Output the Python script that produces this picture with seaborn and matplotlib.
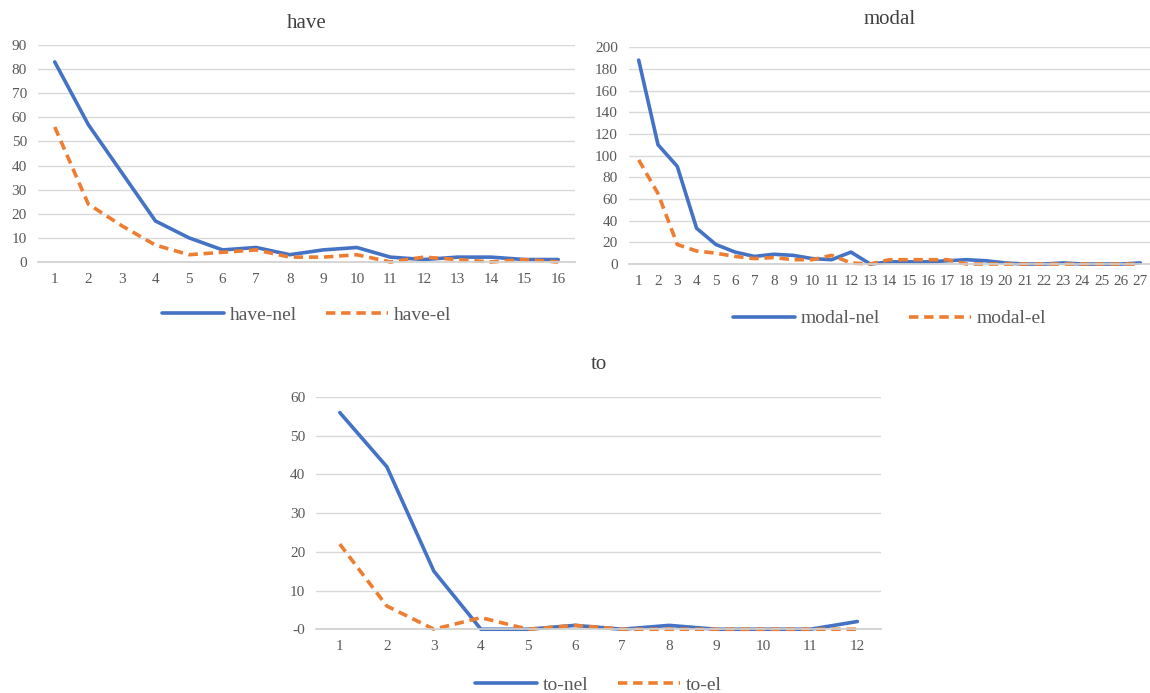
import numpy as np
import pandas as pd
import seaborn as sns
import matplotlib.pyplot as plt

# values
have_nel = [83, 57, 37, 17, 10, 5, 6, 3, 5, 6, 2, 1, 2, 2, 1, 1]
have_el = [56, 24, 15, 7, 3, 4, 5, 2, 2, 3, 0, 2, 1, 0, 1, 0]

modal_nel = [188, 110, 90, 33, 18, 11, 7, 9, 8, 5, 4, 11, 0, 2, 2, 2, 3, 4, 3, 1, 0, 0, 1, 0, 0, 0, 1]
modal_el = [96, 65, 18, 12, 10, 7, 5, 6, 4, 4, 8, 1, 0, 4, 4, 4, 4, 0, 0, 0, 0, 0, 0, 0, 0, 0, 0]

to_nel = [56, 42, 15, 0, 0, 1, 0, 1, 0, 0, 0, 2]
to_el = [22, 6, 0, 3, 0, 1, 0, 0, 0, 0, 0, 0]

BLUE = '#4472C4'
ORANGE = '#ED7D31'
GREY = '#595959'

sns.set_theme(style='white')
plt.rcParams['font.family'] = ['Liberation Serif', 'DejaVu Serif']

fig = plt.figure(figsize=(11.5, 6.93), dpi=100)


def draw(ax, name, nel, el, ymax, ystep, zero_label='0', legend_y=-0.17, title_pad=12):
    x = np.arange(1, len(nel) + 1)
    df = pd.DataFrame({'x': x, 'nel': nel, 'el': el})
    sns.lineplot(data=df, x='x', y='nel', ax=ax, color=BLUE, lw=2.6, clip_on=False,
                 label=f'{name}-nel', solid_joinstyle='round', solid_capstyle='round')
    sns.lineplot(data=df, x='x', y='el', ax=ax, color=ORANGE, lw=2.6, clip_on=False,
                 linestyle=(0, (2.6, 1.6)), label=f'{name}-el')
    ax.set_xlim(0.5, len(nel) + 0.5)
    ax.set_ylim(0, ymax)
    ax.set_xticks(x)
    ax.set_xticklabels([str(i) for i in x])
    yt = np.arange(0, ymax + 1, ystep)
    ax.set_yticks(yt)
    ax.set_yticklabels([zero_label] + [str(v) for v in yt[1:]])
    ax.grid(axis='y', color='#d9d9d9', lw=1)
    ax.set_axisbelow(True)
    for s in ['left', 'right', 'top']:
        ax.spines[s].set_visible(False)
    ax.spines['bottom'].set_color('#d0d0d0')
    ax.tick_params(axis='both', length=0, labelsize=11, colors=GREY, pad=8)
    ax.set_xlabel('')
    ax.set_ylabel('')
    ax.set_title(name, fontsize=15, color='#404040', pad=title_pad)
    ax.legend(loc='upper center', bbox_to_anchor=(0.5, legend_y), ncol=2,
              frameon=False, fontsize=14, handlelength=3.2, columnspacing=1.5,
              handletextpad=0.3, labelcolor=GREY)


ax1 = fig.add_axes([0.033, 0.622, 0.467, 0.313])
draw(ax1, 'have', have_nel, have_el, 90, 10, legend_y=-0.124, title_pad=12)

ax2 = fig.add_axes([0.547, 0.619, 0.453, 0.313])
draw(ax2, 'modal', modal_nel, modal_el, 200, 20, legend_y=-0.13, title_pad=17)

ax3 = fig.add_axes([0.275, 0.092, 0.491, 0.335])
draw(ax3, 'to', to_nel, to_el, 60, 10, zero_label='-0', legend_y=-0.129, title_pad=20)

fig.savefig('out.png', dpi=100)
